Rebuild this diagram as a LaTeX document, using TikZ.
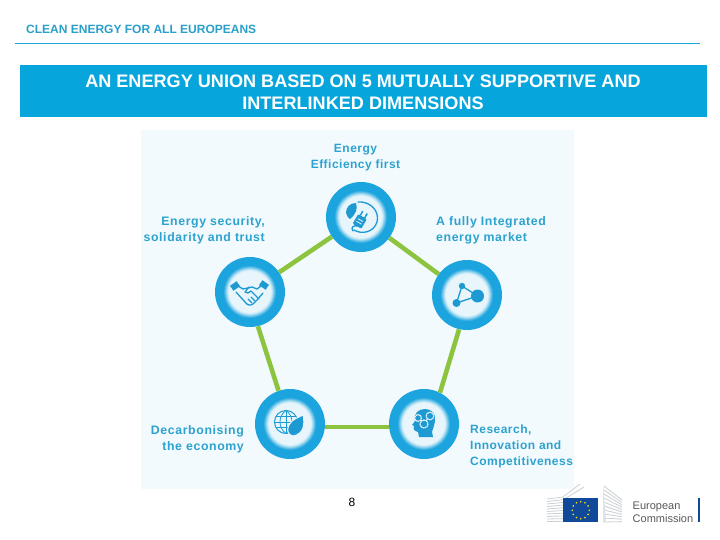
\documentclass[tikz,border=0pt]{standalone}
\usepackage{fontspec}
\usetikzlibrary{calc}
\setmainfont{Liberation Sans}
\newfontfamily\lblfont[LetterSpace=4]{Liberation Sans}
\newfontfamily\lblwide[LetterSpace=5]{Liberation Sans}
\definecolor{hdr}{HTML}{2A9FC9}
\definecolor{rulec}{HTML}{1CA8DC}
\definecolor{band}{HTML}{06A6DC}
\definecolor{panel}{HTML}{F3FAFD}
\definecolor{ringc}{HTML}{1CA4DE}
\definecolor{lbl}{HTML}{2BA2CF}
\definecolor{lnk}{HTML}{8CC43F}
\definecolor{icn}{HTML}{1E9AD3}
\definecolor{pale}{HTML}{E8F6FC}
\definecolor{ecblue}{HTML}{10499A}
\definecolor{bld}{HTML}{C9D0D4}
\tikzset{
  hub/.style={circle,fill=ringc,minimum size=70pt,inner sep=0pt},
  link/.style={draw=lnk,line width=4.6pt},
  lab/.style={inner sep=0pt,text=lbl,font=\fontsize{12}{16}\selectfont\lblfont\bfseries},
  labwide/.style={inner sep=0pt,text=lbl,font=\fontsize{12.3}{16}\selectfont\lblwide\bfseries},
  iconline/.style={draw=icn,line width=1.3pt,line cap=round,line join=round},
  bldline/.style={draw=bld,line width=.8pt},
}
\newcommand{\glow}[1]{%
  \fill[ringc!85!white] (#1) circle (26);
  \fill[ringc!68!white] (#1) circle (25);
  \fill[ringc!50!white] (#1) circle (24);
  \fill[ringc!32!white] (#1) circle (23);
  \fill[ringc!18!white] (#1) circle (22);
  \fill[pale] (#1) circle (21);
}
\begin{document}
\begin{tikzpicture}[x=1pt,y=-1pt]
\useasboundingbox (0,0) rectangle (720,540);
\fill[white] (0,0) rectangle (720,540);
% header
\node[anchor=west,inner sep=0pt,text=hdr,font=\fontsize{12}{14}\selectfont\bfseries] (head) at (26,29) {CLEAN ENERGY FOR ALL EUROPEANS};
\fill[rulec] (15,43) rectangle (700,44.2);
\node[anchor=north west,fill=band,minimum width=687pt,minimum height=52pt,inner sep=0pt] (banner) at (20,65) {};
\node[align=center,inner sep=0pt,text=white,font=\fontsize{18.1}{22}\selectfont\bfseries] (title) at (363,92) {AN ENERGY UNION BASED ON 5 MUTUALLY SUPPORTIVE AND\\INTERLINKED DIMENSIONS};
% panel
\fill[panel] (141,130) rectangle (574,489);
% hubs
\node[hub] (n1) at (361,217) {};
\node[hub] (n2) at (467,295) {};
\node[hub] (n3) at (424,424) {};
\node[hub] (n4) at (290,424) {};
\node[hub] (n5) at (250,292) {};
% connectors
\draw[link] (n1) -- (n2);
\draw[link] (n2.257) -- (n3.63);
\draw[link] (n3.185) -- (n4.-5);
\draw[link] (n4.109) -- (n5.-77);
\draw[link] (n5) -- (n1);
\glow{n1}\glow{n2}\glow{n3}\glow{n4}\glow{n5}
% labels
\node[lab,align=center] (l1) at (355.5,158) {Energy\\Efficiency first};
\node[labwide,align=left,anchor=west] (l2) at (436,230) {A fully Integrated\\energy market};
\node[lab,align=left,anchor=west] (l3) at (470,446) {Research,\\Innovation and\\Competitiveness};
\node[labwide,align=right,anchor=east] (l4) at (244,439) {Decarbonising\hspace{4pt}\\the economy};
\node[labwide,align=right,anchor=east] (l5) at (265,230) {Energy security,\\solidarity and trust};
% icon: plug and leaf
\begin{scope}[shift={(n1)}]
  \draw[iconline] (-7,13) .. controls (1,18) and (13,15) .. (16,5) .. controls (19,-6) and (9,-16) .. (-3,-15);
  \draw[iconline] (-3,9) .. controls (-7,8) and (-11,10) .. (-8,14);
  \fill[icn] (-15,-4) .. controls (-15,-10) and (-11,-14) .. (-5,-14) .. controls (-3,-8) and (-5,-3) .. (-11,2) .. controls (-13,1) and (-14,-1) .. (-15,-4) -- cycle;
  \begin{scope}[shift={(-1,4)},rotate=-30]
    \fill[icn,rounded corners=1pt] (-5,-5) rectangle (5,6);
    \draw[pale,line width=.8pt] (-3,-1) -- (3,-1) (-3,2) -- (3,2);
    \draw[icn,line width=1.5pt] (-2.5,-5) -- (-2.5,-10) (2.5,-5) -- (2.5,-10);
  \end{scope}
\end{scope}
% icon: network
\begin{scope}[shift={(n2)}]
  \coordinate (nA) at (-5,-9);
  \coordinate (nB) at (10.5,1);
  \coordinate (nC) at (-10.5,8);
  \draw[iconline] (nA) -- (nB) -- (nC) -- cycle;
  \fill[icn] (nA) circle (3.2) (nB) circle (6.5) (nC) circle (4);
\end{scope}
% icon: head with gears
\begin{scope}[shift={(n3)}]
  \fill[icn] (-5,13) -- (-6,8) .. controls (-10,7) and (-11,5) .. (-10,2) -- (-12,1) -- (-9,-3) .. controls (-11,-11) and (-5,-15) .. (1,-15) .. controls (8,-15) and (12,-10) .. (11,-3) .. controls (10,2) and (9,5) .. (8,8) -- (9,13) -- cycle;
  \foreach \p/\r in {{-6,-6}/2.6,{6,-8}/3,{0,0}/3.2}{
    \draw[pale,line width=1.2pt,dash pattern=on 1.4pt off .5pt] (\p) circle (\r+.8);
    \fill[icn] (\p) circle (\r-.4);
  }
  \draw[pale,line width=1pt] (-3,-4) -- (-2,-3) (3.5,-5.5) -- (2,-3);
\end{scope}
% icon: globe and leaf
\begin{scope}[shift={(n4)}]
  \begin{scope}[xshift=-4pt,yshift=2pt]
    \draw[icn,line width=1pt] (0,0) circle (11.5);
    \draw[icn,line width=.8pt] (0,-11.5) -- (0,11.5) (-11.5,0) -- (11.5,0) (-10,-5.7) -- (10,-5.7) (-10,5.7) -- (10,5.7);
    \draw[icn,line width=.8pt] (0,-11.5) .. controls (-8,-6) and (-8,6) .. (0,11.5) (0,-11.5) .. controls (8,-6) and (8,6) .. (0,11.5);
  \end{scope}
  \fill[icn,draw=pale,line width=1pt] (13,-9) .. controls (15,0) and (14,10) .. (3,12) .. controls (-3,11) and (-3,5) .. (-1,1) .. controls (2,-5) and (8,-6) .. (13,-9) -- cycle;
\end{scope}
% icon: handshake
\begin{scope}[shift={(n5)}]
  \begin{scope}[iconline]
    \draw (-12,-6) -- (-7,-3) -- (-2,-4) -- (2,-5) -- (7,-3) -- (11,-6);
    \draw (-14,0) -- (-5,10) .. controls (-3,13) and (0,14) .. (3,12) -- (7,8) -- (13,1);
    \draw (-1,-5) -- (-5,0) .. controls (-3,2) and (-1,1) .. (1,-1) -- (9,7);
    \draw (2,11) -- (-2,7) (5,9) -- (1,5);
  \end{scope}
  \fill[icn,rotate around={35:(-15,-6)}] (-19,-9) rectangle (-11,-3);
  \fill[icn,rotate around={-35:(14,-7)}] (10,-10) rectangle (18,-4);
\end{scope}
% page number
\node[inner sep=0pt,font=\fontsize{12}{14}\selectfont] (pg) at (352,502) {8};
% logo
\foreach \i in {0,...,9}{
  \draw[bldline] (547,{499+\i*2.5}) -- (563,{497+\i*2.7});
  \draw[bldline] (604,{486+\i*4}) -- (622,{500+\i*2.4});
}
\draw[bldline] (580,484) -- (563,497);
\draw[bldline] (584,487) -- (563,500);
\fill[bld!60!white] (603,483) -- (606,522) -- (603,522) -- cycle;
\node[anchor=north west,fill=ecblue,minimum width=35pt,minimum height=24pt,inner sep=0pt] (flag) at (563,498) {};
\foreach \a in {0,30,...,330}{
  \fill[yellow!85!orange] ($(flag.center)+(\a:8.5)$) circle (.9);
}
\node[anchor=west,inner sep=0pt,text=black!65,font=\fontsize{11}{13}\selectfont,align=left] (ec) at (632.5,512) {European\\Commission};
\node[anchor=north west,fill=ecblue,minimum width=2pt,minimum height=24pt,inner sep=0pt] (bar) at (698,498) {};
\end{tikzpicture}
\end{document}
